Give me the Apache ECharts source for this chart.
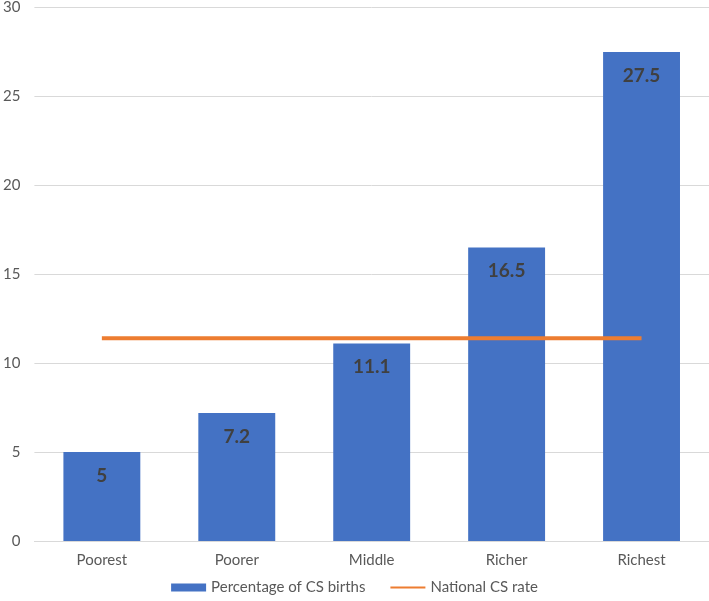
<!DOCTYPE html>
<html>
<head>
<meta charset="utf-8">
<script src="https://cdn.jsdelivr.net/npm/echarts@6/dist/echarts.min.js"></script>
<style>
  html, body { margin: 0; padding: 0; background: #fff; }
  #chart { width: 709px; height: 601px; }
</style>
</head>
<body>
<div id="chart"></div>
<script>
  const categories = ['Poorest', 'Poorer', 'Middle', 'Richer', 'Richest']
  const csBirths = [5, 7.2, 11.1, 16.5, 27.5]
  const nationalRate = [11.4, 11.4, 11.4, 11.4, 11.4]
  const yTicks = { min: 0, max: 30, interval: 5 }

  const font = 'Lato, "Open Sans", sans-serif'
  const chart = echarts.init(document.getElementById('chart'))

  chart.setOption({
    animation: false,
    textStyle: { fontFamily: font },
    grid: {
      top: 5,
      left: 28,
      right: 0,
      bottom: 60
    },
    legend: {
      bottom: 1,
      left: 'center',
      itemWidth: 35,
      itemHeight: 8,
      itemGap: 24,
      textStyle: { color: '#595959', fontSize: 15, fontFamily: font },
      data: [
        { name: 'Percentage of CS births', icon: 'rect' },
        { name: 'National CS rate', itemStyle: { opacity: 0 } }
      ]
    },
    xAxis: {
      type: 'category',
      data: categories,
      axisTick: { show: false },
      axisLine: { lineStyle: { color: '#d9d9d9', width: 1 } },
      axisLabel: { color: '#595959', fontSize: 15, margin: 12 }
    },
    yAxis: {
      type: 'value',
      min: yTicks.min,
      max: yTicks.max,
      interval: yTicks.interval,
      axisLine: { show: false },
      axisTick: { show: false },
      axisLabel: { color: '#595959', fontSize: 15, margin: 14 },
      splitLine: { lineStyle: { color: '#d9d9d9', width: 1 } }
    },
    series: [
      {
        name: 'Percentage of CS births',
        type: 'bar',
        data: csBirths,
        barWidth: '57%',
        itemStyle: { color: '#4472c4' },
        label: {
          show: true,
          position: 'insideTop',
          distance: 14,
          color: '#404040',
          fontSize: 19,
          fontWeight: 'bold'
        }
      },
      {
        name: 'National CS rate',
        type: 'line',
        data: nationalRate,
        symbol: 'none',
        lineStyle: { color: '#ed7d31', width: 4 },
        itemStyle: { color: '#ed7d31' }
      }
    ]
  })
</script>
</body>
</html>
